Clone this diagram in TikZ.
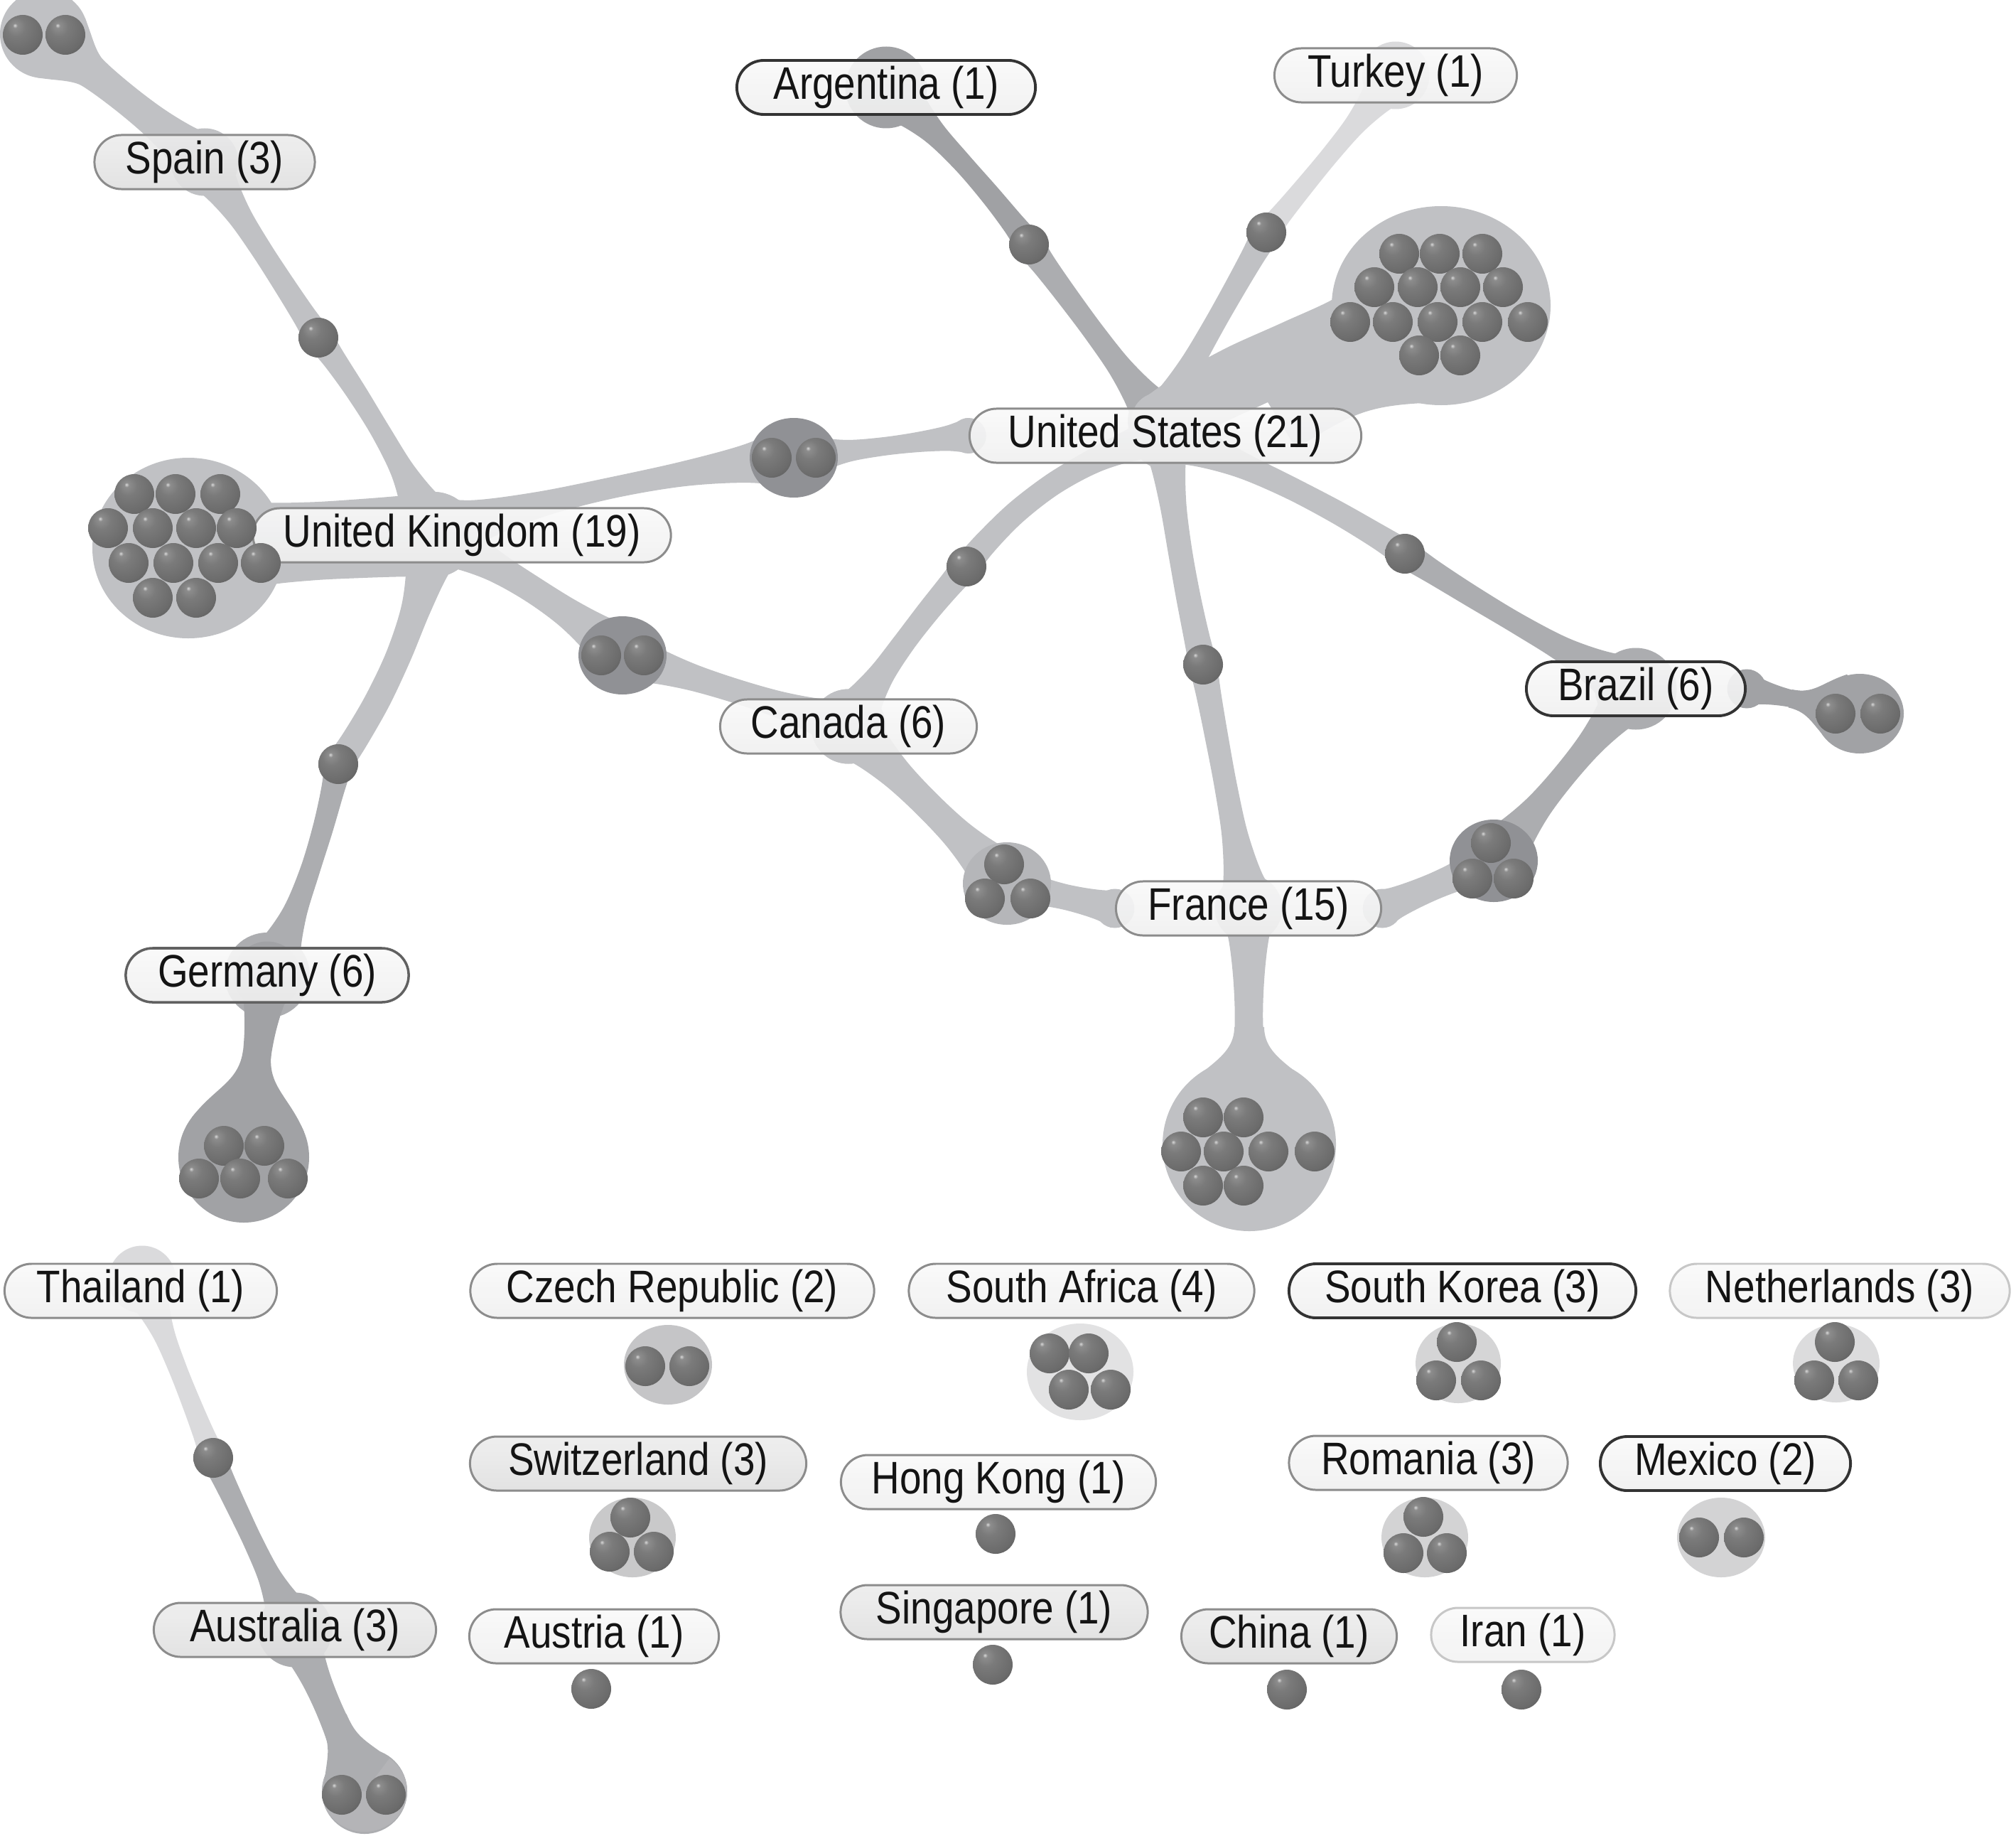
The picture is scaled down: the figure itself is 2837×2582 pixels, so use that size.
\documentclass[tikz,border=0pt]{standalone}
\usepackage{fontspec}
\setmainfont{Liberation Sans}
\usepackage{graphicx}
\usetikzlibrary{calc,shapes.misc}
\pgfdeclarelayer{bgw}\pgfdeclarelayer{bandl}\pgfdeclarelayer{blobl}\pgfdeclarelayer{front}
\pgfsetlayers{bgw,bandl,blobl,main,front}
\definecolor{bandL}{RGB}{192,193,196}
\definecolor{bandM}{RGB}{172,173,176}
\definecolor{bandD}{RGB}{160,161,164}
\definecolor{bandXL}{RGB}{218,218,220}
\definecolor{blobD}{RGB}{144,145,149}
\definecolor{blobG}{RGB}{161,162,165}
\definecolor{blobC}{RGB}{181,182,185}
\definecolor{blobA}{RGB}{180,180,183}
\definecolor{blobCz}{RGB}{197,197,199}
\definecolor{blobSA}{RGB}{226,226,227}
\definecolor{blobSK}{RGB}{213,213,214}
\definecolor{blobNL}{RGB}{220,220,221}
\definecolor{blobSw}{RGB}{201,201,202}
\definecolor{blobRo}{RGB}{211,211,212}
\pgfdeclareradialshading{docball}{\pgfpoint{-10bp}{12bp}}{%
  color(0bp)=(black!15);
  color(3bp)=(black!45);
  color(12bp)=(black!52);
  color(30bp)=(black!58);
  color(45bp)=(black!68);
  color(60bp)=(black!78);
  color(80bp)=(black!78)}
\newcommand\lbltxt[1]{\scalebox{1}[1.17]{#1}}
\newcommand\docball[1]{\shade[shading=docball] (#1) circle[radius=28];}
% band: colour, from, to, width at from, width at to, width in middle, bend (all px)
\newcommand\band[7]{%
 \pgfmathsetmacro\bwA{#4*0.1422638}%
 \pgfmathsetmacro\bwB{#5*0.1422638}%
 \pgfmathsetmacro\bwM{#6*0.1422638}%
 \pgfmathsetmacro\bbo{#7*0.2845276}%
 \pgfmathsetmacro\bwP{0.4*\bwA+0.6*\bwM}%
 \pgfmathsetmacro\bwR{0.4*\bwB+0.6*\bwM}%
 \pgfmathsetmacro\bwS{0.08*\bwA+0.92*\bwM}%
 \pgfmathsetmacro\bwT{0.08*\bwB+0.92*\bwM}%
 \pgfmathsetmacro\bbp{0.4224*\bbo}%
 \pgfmathsetmacro\bbq{0.84*\bbo}%
 \pgfmathsetmacro\uP{\bbp+\bwP}\pgfmathsetmacro\lP{\bbp-\bwP}%
 \pgfmathsetmacro\uS{\bbq+\bwS}\pgfmathsetmacro\lS{\bbq-\bwS}%
 \pgfmathsetmacro\uM{\bbo+\bwM}\pgfmathsetmacro\lM{\bbo-\bwM}%
 \pgfmathsetmacro\uT{\bbq+\bwT}\pgfmathsetmacro\lT{\bbq-\bwT}%
 \pgfmathsetmacro\uR{\bbp+\bwR}\pgfmathsetmacro\lR{\bbp-\bwR}%
 \coordinate (bzA) at ($(#2)!\bwA pt!90:(#3)$);
 \coordinate (bzB) at ($(#2)!0.12!(#3)!\uP pt!90:(#3)$);
 \coordinate (bzC) at ($(#2)!0.3!(#3)!\uS pt!90:(#3)$);
 \coordinate (bzD) at ($(#2)!0.5!(#3)!\uM pt!90:(#3)$);
 \coordinate (bzE) at ($(#2)!0.7!(#3)!\uT pt!90:(#3)$);
 \coordinate (bzF) at ($(#2)!0.88!(#3)!\uR pt!90:(#3)$);
 \coordinate (bzG) at ($(#3)!\bwB pt!-90:(#2)$);
 \coordinate (bzH) at ($(#3)!\bwB pt!90:(#2)$);
 \coordinate (bzI) at ($(#2)!0.88!(#3)!\lR pt!90:(#3)$);
 \coordinate (bzJ) at ($(#2)!0.7!(#3)!\lT pt!90:(#3)$);
 \coordinate (bzK) at ($(#2)!0.5!(#3)!\lM pt!90:(#3)$);
 \coordinate (bzL) at ($(#2)!0.3!(#3)!\lS pt!90:(#3)$);
 \coordinate (bzM) at ($(#2)!0.12!(#3)!\lP pt!90:(#3)$);
 \coordinate (bzN) at ($(#2)!\bwA pt!-90:(#3)$);
 \fill[#1] plot[smooth,tension=0.55] coordinates {(bzA) (bzB) (bzC) (bzD) (bzE) (bzF) (bzG)}
   -- plot[smooth,tension=0.55] coordinates {(bzH) (bzI) (bzJ) (bzK) (bzL) (bzM) (bzN)} -- cycle;
 \fill[#1] (#2) circle[radius=#4/2];
 \fill[#1] (#3) circle[radius=#5/2];
}
% teardrop shoulder: colour, centre, direction (canvas degrees), radius, neck distance, neck width
\newcommand\tear[6]{%
 \pgfmathsetmacro\tA{0.5*#4}\pgfmathsetmacro\tB{0.866*#4}%
 \pgfmathsetmacro\tD{#5-0.5*#4}%
 \pgfmathsetmacro\tCx{\tA+0.45*\tD}\pgfmathsetmacro\tCy{\tB-0.45*\tD*0.577}%
 \pgfmathsetmacro\tEx{#5-0.45*\tD}\pgfmathsetmacro\tW{#6/2}%
 \fill[#1,shift={(#2)},rotate=#3] (0,0) -- (\tA,\tB) .. controls (\tCx,\tCy) and (\tEx,\tW) .. (#5,\tW)
   -- (#5,-\tW) .. controls (\tEx,-\tW) and (\tCx,-\tCy) .. (\tA,-\tB) -- cycle;
}
\begin{document}
\begin{tikzpicture}[x=0.01cm,y=-0.01cm,
  lbl/.style={rounded rectangle, draw=black!45, line width=0.85pt,
    minimum width=#1, minimum height=0.76cm, inner xsep=0pt, inner ysep=0pt,
    top color=black!2, middle color=white, bottom color=black!6,
    fill opacity=0.9, draw opacity=1, text opacity=1,
    font=\fontsize{15.6}{18}\selectfont, text=black!92,
    text height=13.3pt, text depth=3.8pt},
  lbldark/.style={draw=black!80, line width=1.1pt},
  lblmid/.style={draw=black!62, line width=1pt},
  lblgray/.style={top color=black!7, middle color=black!4, bottom color=black!12},
  lbllight/.style={draw=black!22, top color=black!2, middle color=white, bottom color=black!5}]
\begin{pgfonlayer}{bgw}
\fill[white] (0,0) rectangle (2837,2582);
\end{pgfonlayer}
\useasboundingbox (0,0) rectangle (2837,2582);

% ---------- labels ----------
\node[lbl=3.10cm,lblgray] (spain) at (288,228) {\lbltxt{Spain (3)}};
\node[lbl=4.20cm,lbldark] (arg) at (1247,123) {\lbltxt{Argentina (1)}};
\node[lbl=3.41cm] (tur) at (1964,106) {\lbltxt{Turkey (1)}};
\node[lbl=5.51cm] (us) at (1640,613) {\lbltxt{United States (21)}};
\node[lbl=5.88cm] (uk) at (650,753) {\lbltxt{United Kingdom (19)}};
\node[lbl=3.61cm] (can) at (1194,1022) {\lbltxt{Canada (6)}};
\node[lbl=3.08cm,lbldark] (bra) at (2302,969) {\lbltxt{Brazil (6)}};
\node[lbl=3.73cm] (fra) at (1757,1278) {\lbltxt{France (15)}};
\node[lbl=3.98cm,lblmid] (ger) at (376,1372) {\lbltxt{Germany (6)}};
\node[lbl=3.83cm] (tha) at (198,1816) {\lbltxt{Thailand (1)}};
\node[lbl=5.68cm] (cze) at (946,1816) {\lbltxt{Czech Republic (2)}};
\node[lbl=4.86cm] (saf) at (1522,1816) {\lbltxt{South Africa (4)}};
\node[lbl=4.88cm,lbldark] (sko) at (2058,1816) {\lbltxt{South Korea (3)}};
\node[lbl=4.78cm,lbllight] (net) at (2589,1816) {\lbltxt{Netherlands (3)}};
\node[lbl=4.73cm,lblgray] (swi) at (898,2059) {\lbltxt{Switzerland (3)}};
\node[lbl=4.43cm] (hk) at (1405,2085) {\lbltxt{Hong Kong (1)}};
\node[lbl=3.92cm] (rom) at (2010,2058) {\lbltxt{Romania (3)}};
\node[lbl=3.52cm,lbldark] (mex) at (2428,2059) {\lbltxt{Mexico (2)}};
\node[lbl=3.97cm,lblgray] (aus) at (415,2293) {\lbltxt{Australia (3)}};
\node[lbl=3.51cm] (aut) at (836,2302) {\lbltxt{Austria (1)}};
\node[lbl=4.32cm,lblgray] (sin) at (1399,2268) {\lbltxt{Singapore (1)}};
\node[lbl=3.03cm,lblgray] (chi) at (1814,2302) {\lbltxt{China (1)}};
\node[lbl=2.58cm,lbllight] (iran) at (2143,2300) {\lbltxt{Iran (1)}};

% ---------- cluster positions ----------
\coordinate (ukh) at (610,752);
\coordinate (ush) at (1632,592);
\coordinate (thh) at (200,1800);
\coordinate (cSp) at (62,48);
\coordinate (bSpUk) at (448,475);
\coordinate (cUK) at (265,771);
\coordinate (cUkUs) at (1117,644);
\coordinate (cUkCa) at (876,922);
\coordinate (bUkGe) at (476,1075);
\coordinate (cGe) at (343,1628);
\coordinate (bArg) at (1448,344);
\coordinate (bTur) at (1782,327);
\coordinate (cUS) at (2028,430);
\coordinate (bUsCa) at (1360,797);
\coordinate (bUsFr) at (1693,935);
\coordinate (bUsBr) at (1977,779);
\coordinate (cBr) at (2617,1004);
\coordinate (cBrFr) at (2102,1211);
\coordinate (cCaFr) at (1417,1243);
\coordinate (cFr) at (1758,1610);
\coordinate (bThAu) at (300,2051);
\coordinate (cAu) at (513,2520);
\coordinate (cCz) at (940,1920);
\coordinate (cSA) at (1520,1930);
\coordinate (cSK) at (2052,1918);
\coordinate (cNL) at (2584,1918);
\coordinate (cSw) at (890,2163);
\coordinate (bHK) at (1401,2158);
\coordinate (cRo) at (2005,2163);
\coordinate (cMx) at (2422,2163);
\coordinate (bAut) at (832,2376);
\coordinate (bSin) at (1397,2342);
\coordinate (bChi) at (1811,2377);
\coordinate (bIr) at (2141,2377);

% ---------- bands ----------
\begin{pgfonlayer}{bandl}
\band{bandL}{spain}{cSp}{90}{110}{42}{0}
\band{bandL}{spain}{bSpUk}{95}{40}{30}{0}
\band{bandL}{bSpUk}{ukh}{40}{120}{28}{9}
\band{bandL}{ukh}{cUK}{120}{210}{110}{0}
\band{bandL}{ukh}{cUkUs}{110}{95}{30}{12}
\band{bandL}{cUkUs}{us.west}{100}{50}{26}{0}
\band{bandL}{ukh}{cUkCa}{110}{100}{38}{10}
\band{bandL}{cUkCa}{can}{85}{85}{34}{0}
\band{bandL}{ukh}{bUkGe}{110}{40}{36}{20}
\band{bandM}{bUkGe}{ger}{40}{120}{28}{10}
\band{blobG}{ger}{cGe}{95}{180}{40}{0}
\band{bandM}{ush}{bArg}{90}{42}{30}{0}
\band{bandD}{bArg}{arg}{40}{115}{28}{-8}
\band{bandL}{ush}{bTur}{75}{40}{30}{0}
\band{bandXL}{bTur}{tur}{36}{95}{26}{0}
\band{bandL}{ush}{cUS}{80}{270}{95}{15}
\band{bandL}{us}{bUsCa}{75}{40}{32}{-30}
\band{bandL}{bUsCa}{can}{40}{105}{32}{-7}
\band{bandL}{us}{bUsFr}{75}{40}{34}{-6}
\band{bandL}{bUsFr}{fra}{40}{95}{32}{0}
\band{bandL}{us}{bUsBr}{95}{40}{32}{12}
\band{bandM}{bUsBr}{bra}{40}{115}{30}{-5}
\band{blobG}{bra.east}{cBr}{55}{110}{24}{0}
\band{bandM}{bra}{cBrFr}{105}{110}{34}{0}
\band{bandL}{cBrFr}{fra.east}{100}{55}{38}{0}
\band{bandL}{can}{cCaFr}{105}{110}{40}{0}
\band{bandL}{cCaFr}{fra.west}{110}{55}{36}{0}
\band{bandL}{fra}{cFr}{85}{220}{40}{0}
\band{bandXL}{thh}{bThAu}{95}{38}{26}{0}
\band{bandM}{bThAu}{aus}{36}{105}{28}{0}
\band{bandM}{aus}{cAu}{85}{120}{38}{0}
\end{pgfonlayer}

% ---------- blobs ----------
\begin{pgfonlayer}{blobl}
\fill[bandL] (cSp) circle[radius=62];
\tear{bandL}{cSp}{-38.5}{62}{110}{42}
\fill[bandL] (cUK) ellipse[x radius=135,y radius=127];
\fill[blobD] (cUkUs) ellipse[x radius=62,y radius=56];
\fill[blobD] (cUkCa) ellipse[x radius=62,y radius=55];
\fill[blobG] (cGe) circle[radius=92];
\tear{blobG}{cGe}{82.7}{92}{150}{40}
\fill[bandL] (cUS) ellipse[x radius=154,y radius=140];
\tear{bandL}{cUS}{211.4}{136}{279}{130}
\fill[blobG] (cBr) ellipse[x radius=62,y radius=56];
\tear{blobG}{cBr}{167.7}{58}{100}{26}
\fill[blobD] (cBrFr) ellipse[x radius=62,y radius=58];
\fill[blobC] (cCaFr) ellipse[x radius=62,y radius=58];
\fill[bandL] (cFr) circle[radius=122];
\tear{bandL}{cFr}{90}{120}{165}{42}
\fill[blobA] (cAu) ellipse[x radius=60,y radius=57];
\tear{bandM}{cAu}{113}{58}{110}{38}
\fill[blobCz] (cCz) ellipse[x radius=62,y radius=56];
\fill[blobSA] (cSA) ellipse[x radius=75,y radius=68];
\fill[blobSK] (cSK) ellipse[x radius=60,y radius=56];
\fill[blobNL] (cNL) ellipse[x radius=61,y radius=55];
\fill[blobSw] (cSw) ellipse[x radius=61,y radius=56];
\fill[blobRo] (cRo) ellipse[x radius=61,y radius=56];
\fill[blobRo] (cMx) ellipse[x radius=62,y radius=56];
\end{pgfonlayer}

% ---------- balls ----------
\begin{pgfonlayer}{front}
\foreach \x/\y in {32/49,92/49} {\docball{\x,\y}}
\docball{bSpUk}
\foreach \x/\y in {189/695,247/695,310/695,152/743,215/743,276/743,333/743,
  181/792,244/792,307/792,367/792,215/841,276/841} {\docball{\x,\y}}
\foreach \x/\y in {1086/644,1148/644} {\docball{\x,\y}}
\foreach \x/\y in {846/922,906/922} {\docball{\x,\y}}
\docball{bUkGe}
\foreach \x/\y in {315/1612,372/1612,280/1658,338/1658,405/1658} {\docball{\x,\y}}
\docball{bArg}
\docball{bTur}
\foreach \x/\y in {1969/357,2026/357,2086/357,1934/404,1995/404,2055/404,2115/404,
  1900/453,1960/453,2023/453,2086/453,2150/453,1997/500,2055/500} {\docball{\x,\y}}
\docball{bUsCa}
\docball{bUsFr}
\docball{bUsBr}
\foreach \x/\y in {2583/1004,2646/1004} {\docball{\x,\y}}
\foreach \x/\y in {2098/1186,2072/1236,2130/1236} {\docball{\x,\y}}
\foreach \x/\y in {1413/1216,1386/1264,1450/1264} {\docball{\x,\y}}
\foreach \x/\y in {1693/1572,1750/1572,1662/1620,1722/1620,1785/1620,1850/1620,
  1693/1668,1750/1668} {\docball{\x,\y}}
\docball{bThAu}
\foreach \x/\y in {481/2525,543/2525} {\docball{\x,\y}}
\foreach \x/\y in {908/1922,970/1922} {\docball{\x,\y}}
\foreach \x/\y in {1477/1904,1532/1904,1504/1955,1563/1955} {\docball{\x,\y}}
\foreach \x/\y in {2050/1888,2021/1942,2084/1942} {\docball{\x,\y}}
\foreach \x/\y in {2582/1888,2553/1942,2615/1942} {\docball{\x,\y}}
\foreach \x/\y in {887/2135,858/2183,920/2183} {\docball{\x,\y}}
\docball{bHK}
\foreach \x/\y in {2003/2134,1975/2185,2036/2185} {\docball{\x,\y}}
\foreach \x/\y in {2391/2163,2454/2163} {\docball{\x,\y}}
\docball{bAut}
\docball{bSin}
\docball{bChi}
\docball{bIr}
\end{pgfonlayer}
\end{tikzpicture}
\end{document}
